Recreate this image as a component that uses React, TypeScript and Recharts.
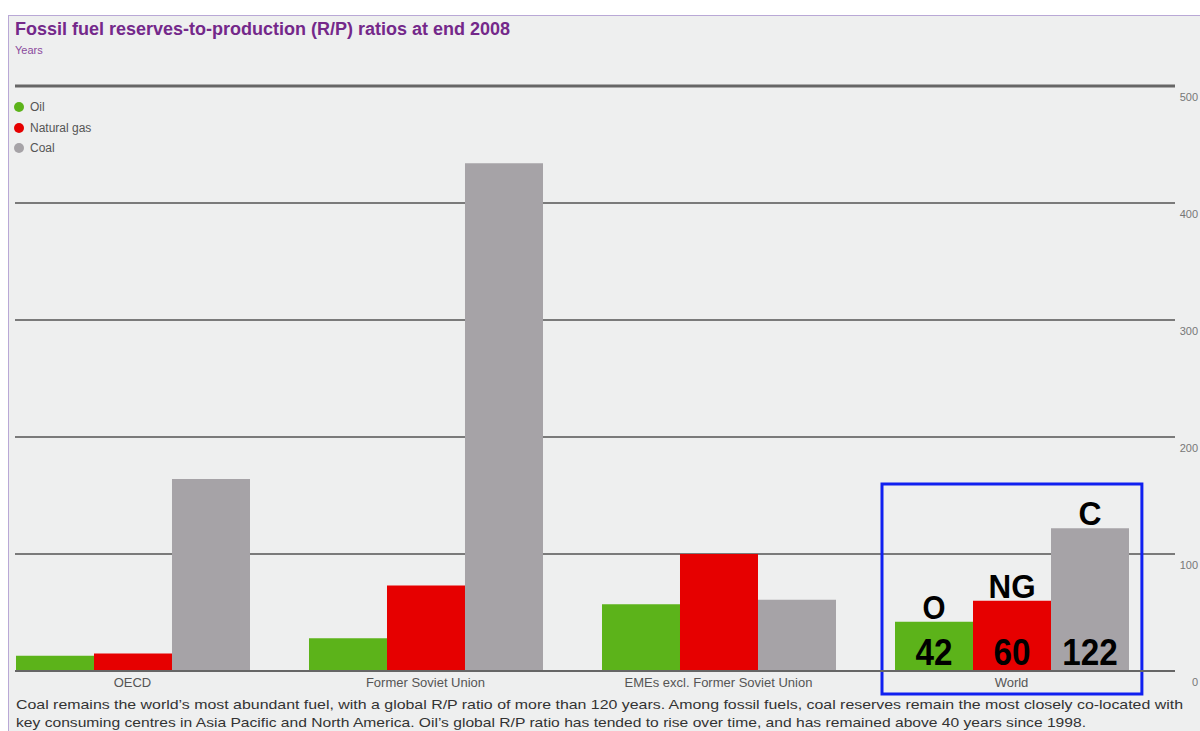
import React from "react";
import {
  Bar,
  BarChart,
  CartesianGrid,
  LabelList,
  ReferenceArea,
  ReferenceLine,
  XAxis,
  YAxis
} from "recharts";

const categories = ["OECD", "Former Soviet Union", "EMEs excl. Former Soviet Union", "World"];
const oil = [13, 28, 57, 42];
const gas = [15, 73, 100, 60];
const coal = [164, 434, 61, 122];
const worldTags = ["O", "NG", "C"];
const yTicks = [0, 100, 200, 300, 400, 500];
// annotation box around "World", in data units
const boxX = [2.558, 3.445];
const boxY = [-19.7, 159.8];

const title = "Fossil fuel reserves-to-production (R/P) ratios at end 2008";
const footer = [
  "Coal remains the world\u2019s most abundant fuel, with a global R/P ratio of more than 120 years. Among fossil fuels, coal reserves remain the most closely co-located with",
  "key consuming centres in Asia Pacific and North America. Oil\u2019s global R/P ratio has tended to rise over time, and has remained above 40 years since 1998."
];

const data = categories.map((name, i) => ({ x: i, name, oil: oil[i], gas: gas[i], coal: coal[i] }));

const COLORS = { oil: "#5cb31a", gas: "#e60000", coal: "#a6a3a7" };
const SANS = "'Liberation Sans', Arial, sans-serif";

const legendItems = [
  { label: "Oil", color: COLORS.oil },
  { label: "Natural gas", color: COLORS.gas },
  { label: "Coal", color: COLORS.coal }
];

function LegendBox() {
  return (
    <div style={{ fontFamily: SANS, fontSize: 12, color: "#555" }}>
      {legendItems.map((it) => (
        <div key={it.label} style={{ display: "flex", alignItems: "center", height: 20.5 }}>
          <span style={{ width: 10, height: 10, borderRadius: 5, background: it.color, marginRight: 6 }} />
          {it.label}
        </div>
      ))}
    </div>
  );
}

function XTick(props: any) {
  const { x, y, payload } = props;
  return (
    <text x={x} y={y + 16} textAnchor="middle" fontFamily={SANS} fontSize={13} fill="#555">
      {categories[payload.value]}
    </text>
  );
}

function YTick(props: any) {
  const { y, payload } = props;
  return (
    <text x={1198} y={y + 15} textAnchor="end" fontFamily={SANS} fontSize={11} fill="#777">
      {payload.value}
    </text>
  );
}

// condensed look: squeeze glyphs to ~86% of their natural width
const tagWidth: Record<string, number> = { O: 23, NG: 47, C: 23 };

function worldLabel(tagIndex: number) {
  return (props: any) => {
    const { x, y, width, height, value, index } = props;
    if (index !== 3) return null;
    const cx = Number(x) + Number(width) / 2;
    const tag = worldTags[tagIndex];
    const numW = String(value).length * 18.5;
    return (
      <g fontFamily={SANS} fontWeight="bold" fill="#000">
        <text
          x={cx - tagWidth[tag] / 2}
          y={Number(y) - 3}
          fontSize={34}
          textLength={tagWidth[tag]}
          lengthAdjust="spacingAndGlyphs"
        >
          {tag}
        </text>
        <text
          x={cx - numW / 2}
          y={Number(y) + Number(height) - 6}
          fontSize={37}
          textLength={numW}
          lengthAdjust="spacingAndGlyphs"
        >
          {value}
        </text>
      </g>
    );
  };
}

export default function App() {
  return (
    <div style={{ position: "absolute", left: 0, top: 0, width: 1200, height: 731, overflow: "hidden", background: "#fff" }}>
      <div
        style={{
          position: "absolute",
          left: 8,
          top: 15,
          width: 1200,
          height: 731,
          background: "#eeefef",
          borderLeft: "1.5px solid #b9a8d6",
          borderTop: "1.5px solid #b9a8d6"
        }}
      />
      <div style={{ position: "absolute", left: 15, top: 19, fontFamily: SANS, fontWeight: "bold", fontSize: 18, color: "#74288a", whiteSpace: "nowrap" }}>
        {title}
      </div>
      <div style={{ position: "absolute", left: 15, top: 44, fontFamily: SANS, fontSize: 11, color: "#8a4a9c" }}>Years</div>
      <div style={{ position: "absolute", left: 14, top: 97 }}>
        <LegendBox />
      </div>

      <div style={{ position: "absolute", left: 0, top: 0 }}>
        <BarChart
          width={1200}
          height={731}
          data={data}
          margin={{ top: 86, right: 0, bottom: 0, left: 15 }}
          barGap={0}
        >
          <CartesianGrid vertical={false} stroke="#7a7a7a" strokeWidth={2} />
          <XAxis
            dataKey="x"
            type="number"
            domain={[-0.401, 3.558]}
            ticks={[0, 1, 2, 3]}
            height={60}
            tickSize={0}
            tickMargin={0}
            tick={<XTick />}
            axisLine={{ stroke: "#666", strokeWidth: 2 }}
            allowDataOverflow
          />
          <YAxis
            orientation="right"
            domain={[0, 500]}
            ticks={yTicks}
            width={25}
            axisLine={false}
            tickLine={false}
            tick={<YTick />}
          />
          <ReferenceLine y={500} stroke="#666" strokeWidth={3} />
          <Bar dataKey="oil" name="Oil" fill={COLORS.oil} barSize={78} isAnimationActive={false}>
            <LabelList dataKey="oil" content={worldLabel(0)} />
          </Bar>
          <Bar dataKey="gas" name="Natural gas" fill={COLORS.gas} barSize={78} isAnimationActive={false}>
            <LabelList dataKey="gas" content={worldLabel(1)} />
          </Bar>
          <Bar dataKey="coal" name="Coal" fill={COLORS.coal} barSize={78} isAnimationActive={false}>
            <LabelList dataKey="coal" content={worldLabel(2)} />
          </Bar>
          <ReferenceArea
            x1={boxX[0]}
            x2={boxX[1]}
            y1={boxY[0]}
            y2={boxY[1]}
            ifOverflow="visible"
            fill="none"
            fillOpacity={0}
            stroke="#1020f0"
            strokeWidth={3}
          />
        </BarChart>
      </div>

      <svg style={{ position: "absolute", left: 0, top: 690 }} width={1200} height={41}>
        <g fontFamily={SANS} fontSize={13} fill="#333">
          <text x={16} y={19} textLength={1167} lengthAdjust="spacingAndGlyphs">{footer[0]}</text>
          <text x={16} y={37} textLength={1070} lengthAdjust="spacingAndGlyphs">{footer[1]}</text>
        </g>
      </svg>
    </div>
  );
}
